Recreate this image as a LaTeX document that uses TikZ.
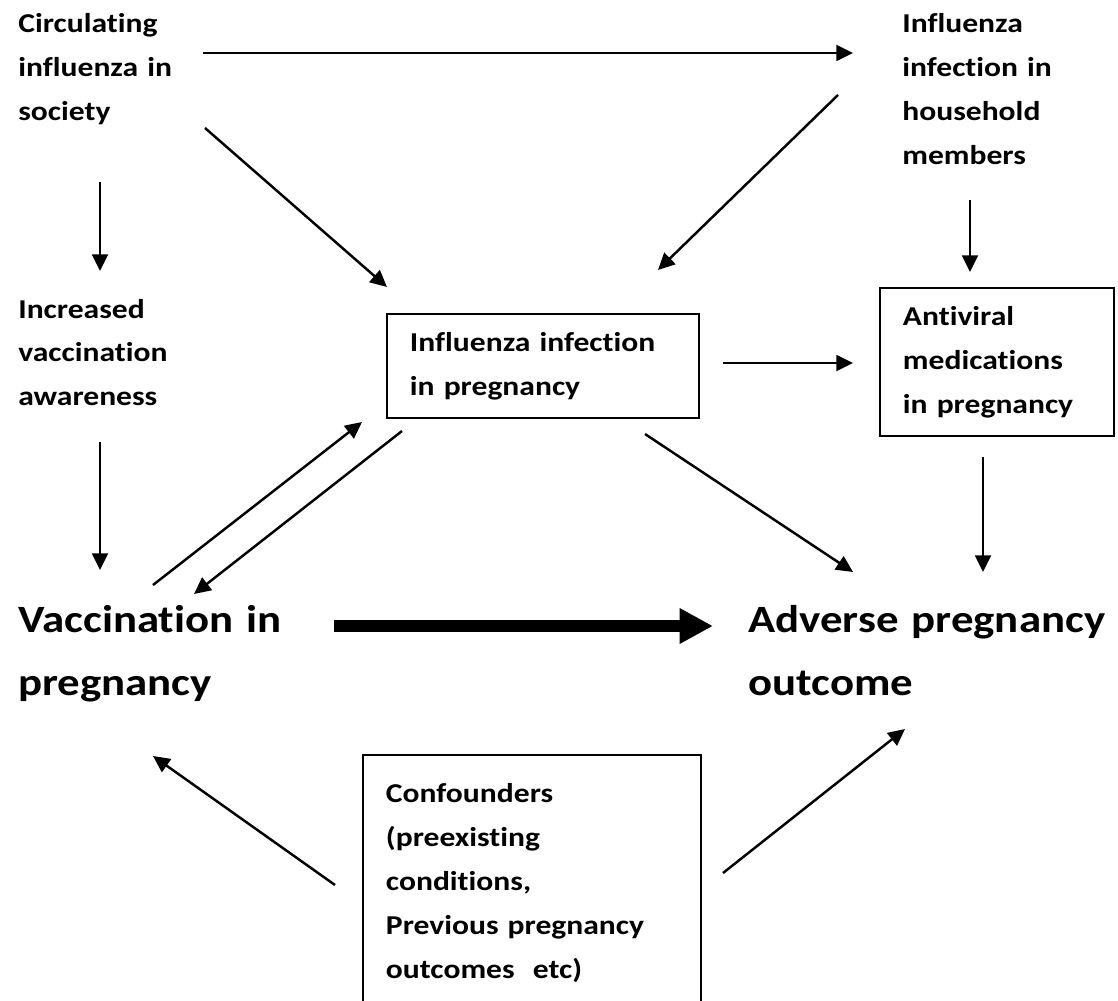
\documentclass[tikz,border=0pt]{standalone}
\usepackage{fontspec}
\setmainfont{Carlito}[FakeStretch=1.16, RawFeature=-liga]
\usetikzlibrary{arrows.meta}
\newcommand\smalltext{\fontsize{15.5}{25}\selectfont\bfseries}
\newcommand\bigtext{\fontsize{22}{35.9}\selectfont\bfseries}

\begin{document}
\begin{tikzpicture}[x=0.02cm, y=-0.02cm]
        \useasboundingbox (0,0) rectangle (1118,1000);

        \begin{scope}[every node/.style={anchor=base west, inner sep=0, align=left, text width=5cm, font=\smalltext}]
          \node (soc)   at (18,33)  {Circulating\\influenza in\\society};
          \node (hh)    at (902,33) {Influenza\\infection in\\household\\members};
          \node (aware) at (18,318) {Increased\\vaccination\\awareness};
        \end{scope}

        \begin{scope}[every node/.style={anchor=base west, inner sep=0, align=left, text width=8cm, font=\bigtext}]
          \node (vac) at (18,632)  {Vaccination in\\pregnancy};
          \node (apo) at (748,632) {Adverse pregnancy\\outcome};
        \end{scope}

        \begin{scope}[every node/.style={draw, line width=1.1pt, anchor=north west, inner xsep=0.46cm, inner ysep=0, align=left, font=\smalltext}]
          \node[text width=5.32cm, minimum height=2.08cm] (inf)  at (386,313) {Influenza infection\\in pregnancy};
          \node[text width=3.76cm, minimum height=2.96cm] (av)   at (879,287) {Antiviral\\medications\\in pregnancy};
          \node[text width=5.84cm, minimum height=5.12cm] (conf) at (362,754) {Confounders\\(preexisting\\conditions,\\Previous pregnancy\\outcomes\ \ etc)};
        \end{scope}

        \begin{scope}[every edge/.style={draw, line width=1.4pt, -{Triangle[length=9.5pt,width=9pt]}}]
          \path ([shift={(185,20)}]soc.base west)    edge ([shift={(-49,20)}]hh.base west);
          \path ([shift={(187,95)}]soc.base west)    edge ([shift={(1,-26)}]inf.north west);
          \path ([shift={(-64,62)}]hh.base west)     edge ([shift={(272,-43)}]inf.north west);
          \path ([shift={(82,149)}]soc.base west)    edge ([shift={(82,-47)}]aware.base west);
          \path ([shift={(68,167)}]hh.base west)     edge ([shift={(91,-15)}]av.north west);
          \path ([shift={(82,124)}]aware.base west)  edge ([shift={(82,-62)}]vac.base west);
          \path ([shift={(337,50)}]inf.north west)   edge ([shift={(-26,76)}]av.north west);
          \path ([shift={(104,170)}]av.north west)   edge ([shift={(235,-60)}]apo.base west);
          \path ([shift={(259,121)}]inf.north west)  edge ([shift={(105,-60)}]apo.base west);
          \path ([shift={(135,-47)}]vac.base west)   edge ([shift={(-24,109)}]inf.north west);
          \path ([shift={(16,118)}]inf.north west)   edge ([shift={(176,-38)}]vac.base west);
          \path ([shift={(-27,131)}]conf.north west) edge ([shift={(135,124)}]vac.base west);
          \path ([shift={(361,119)}]conf.north west) edge ([shift={(157,97)}]apo.base west);
        \end{scope}

        % main effect
        \path[line width=6.8pt] ([shift={(316,-6)}]vac.base west) edge[draw, -{Triangle[length=19pt,width=19pt]}] ([shift={(-35,-6)}]apo.base west);

      \end{tikzpicture}
\end{document}
